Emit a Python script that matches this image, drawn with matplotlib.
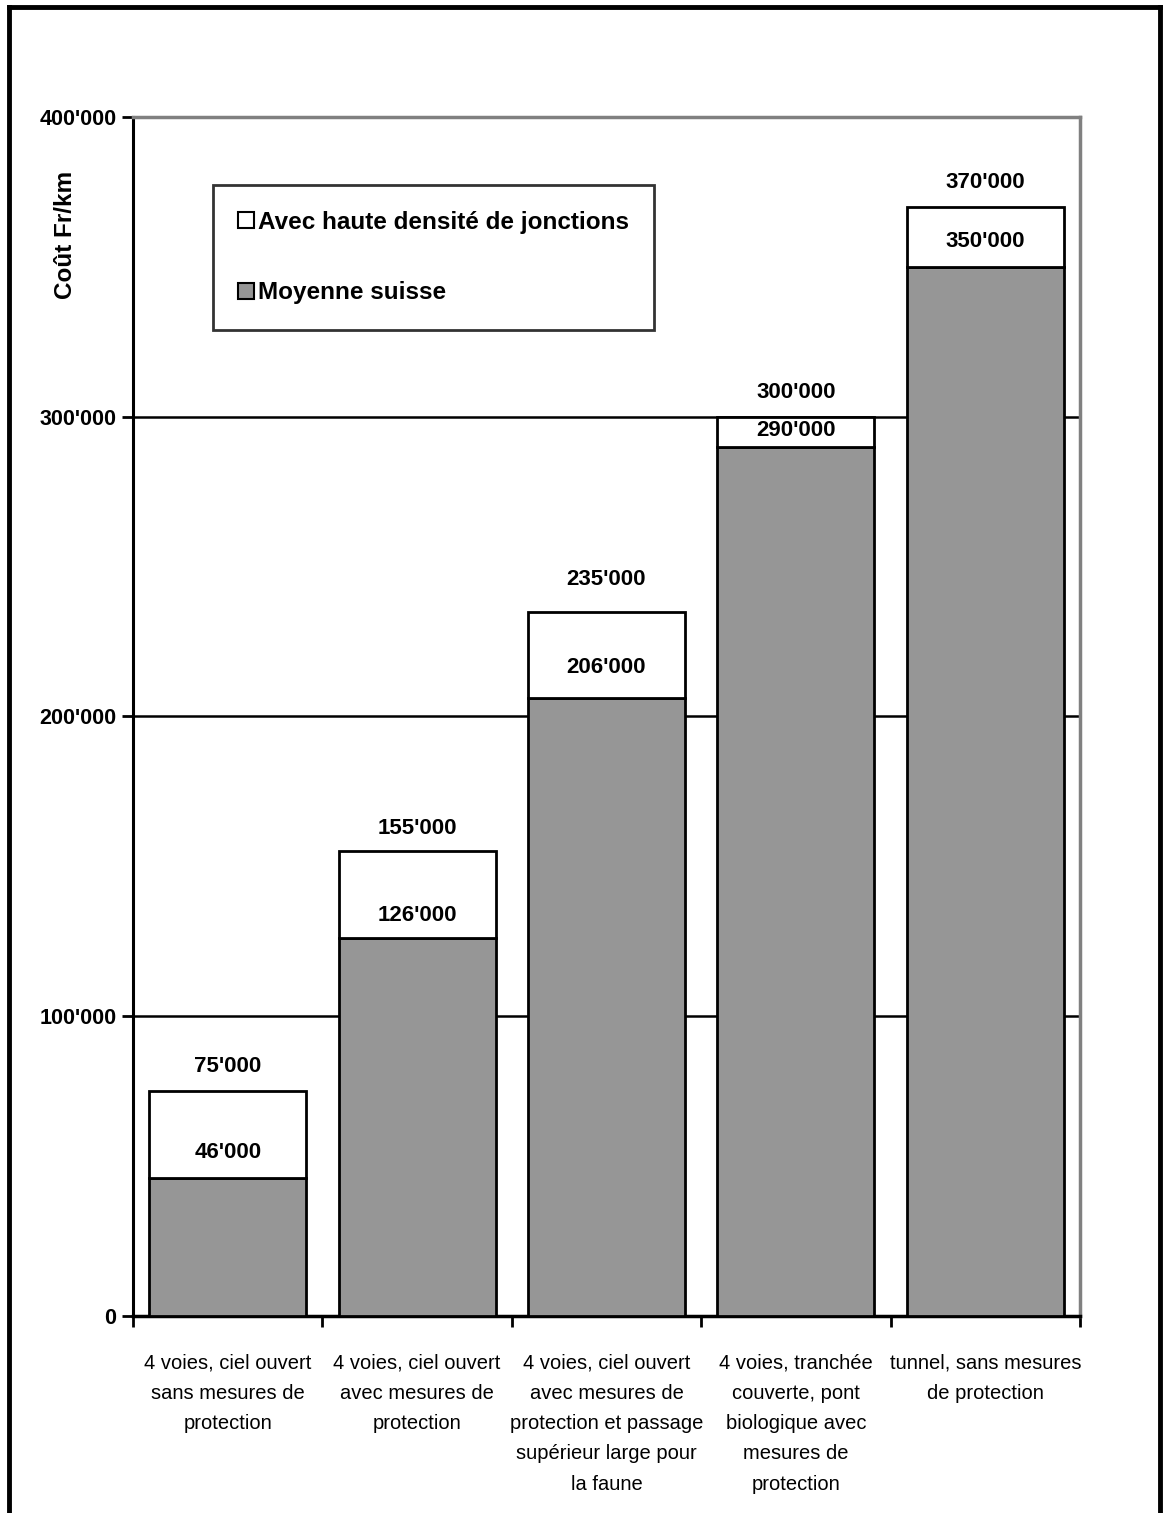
import numpy as np
import matplotlib
matplotlib.use("Agg")
import matplotlib.pyplot as plt
from matplotlib.patches import Patch
from matplotlib.lines import Line2D

# donnees
categories = [
    "4 voies, ciel ouvert\nsans mesures de\nprotection",
    "4 voies, ciel ouvert\navec mesures de\nprotection",
    "4 voies, ciel ouvert\navec mesures de\nprotection et passage\nsupérieur large pour\nla faune",
    "4 voies, tranchée\ncouverte, pont\nbiologique avec\nmesures de\nprotection",
    "tunnel, sans mesures\nde protection",
]
moyenne = [46000, 126000, 206000, 290000, 350000]
haute_densite = [75000, 155000, 235000, 300000, 370000]
y_ticks = [0, 100000, 200000, 300000, 400000]
y_ticklabels = ["0", "100'000", "200'000", "300'000", "400'000"]

plt.rcParams['font.family'] = ['Liberation Sans Narrow', 'Liberation Sans', 'DejaVu Sans']

def fmt(v):
    return "{:,}".format(v).replace(",", "'")

fig = plt.figure(figsize=(11.65, 15.13), dpi=100)
ax = fig.add_axes([0.1142, 0.1302, 0.8128, 0.7925])

x = np.arange(len(categories))
extra = [h - m for h, m in zip(haute_densite, moyenne)]
w = 0.83
ax.bar(x, moyenne, width=w, color='#969696', edgecolor='black', linewidth=2, zorder=3)
ax.bar(x, extra, bottom=moyenne, width=w, color='white', edgecolor='black', linewidth=2, zorder=3)

# decalage des etiquettes (pixels) comme dans l'original
off_top = [25, 23, 32, 24, 24]
off_base = [26, 23, 31, 16, 25]
for i in range(len(x)):
    ax.annotate(fmt(haute_densite[i]), (x[i], haute_densite[i]), xytext=(0, off_top[i]),
                textcoords='offset pixels', ha='center', va='center',
                fontsize=16, fontweight='bold', zorder=4)
    ax.annotate(fmt(moyenne[i]), (x[i], moyenne[i]), xytext=(0, off_base[i]),
                textcoords='offset pixels', ha='center', va='center',
                fontsize=16, fontweight='bold', zorder=4)

ax.set_xlim(-0.5, len(categories) - 0.5)
ax.set_ylim(0, 400000)
ax.set_yticks(y_ticks)
ax.set_yticklabels(y_ticklabels, fontsize=15.5, fontweight='bold')
ax.yaxis.grid(True, color='black', linewidth=1.8, zorder=0)
ax.set_axisbelow(True)

ax.set_xticks(x)
ax.set_xticklabels(categories, fontsize=14.5, linespacing=1.75, va='top')
ax.tick_params(axis='x', length=0, pad=27)
ax.set_xticks(np.arange(len(categories) + 1) - 0.5, minor=True)
ax.tick_params(axis='x', which='minor', length=8, width=2, direction='out')
ax.tick_params(axis='y', length=8, width=2, direction='out', pad=4)

ax.spines['left'].set_linewidth(2.2)
ax.spines['bottom'].set_linewidth(2.5)
ax.spines['top'].set_color('#808080')
ax.spines['top'].set_linewidth(2.5)
ax.spines['right'].set_color('#808080')
ax.spines['right'].set_linewidth(2.5)

handles = [Patch(facecolor='white', edgecolor='black', linewidth=1.5),
           Patch(facecolor='#969696', edgecolor='black', linewidth=1.5)]
leg = ax.legend(handles, ["Avec haute densité de jonctions", "Moyenne suisse"],
                loc='upper left', bbox_to_anchor=(0.084, 0.943), frameon=True, fancybox=False,
                prop={'size': 17.5, 'weight': 'bold'}, handlelength=0.65, handleheight=0.65,
                handletextpad=0.15, labelspacing=1.95, borderpad=1.05, borderaxespad=0)
leg.get_frame().set_edgecolor('black')
leg.get_frame().set_linewidth(2)

fig.text(0.056, 0.8445, "Coût Fr/km", rotation=90, ha='center', va='center',
         fontsize=17.5, fontweight='bold')

# cadre exterieur
fig.add_artist(Line2D([0.008, 0.008], [0.0, 0.9955], color='black', linewidth=3.5, transform=fig.transFigure))
fig.add_artist(Line2D([0.9955, 0.9955], [0.0, 0.9955], color='black', linewidth=3.5, transform=fig.transFigure))
fig.add_artist(Line2D([0.008, 0.9955], [0.9955, 0.9955], color='black', linewidth=3.5, transform=fig.transFigure))

fig.savefig("out.png", dpi=100)
